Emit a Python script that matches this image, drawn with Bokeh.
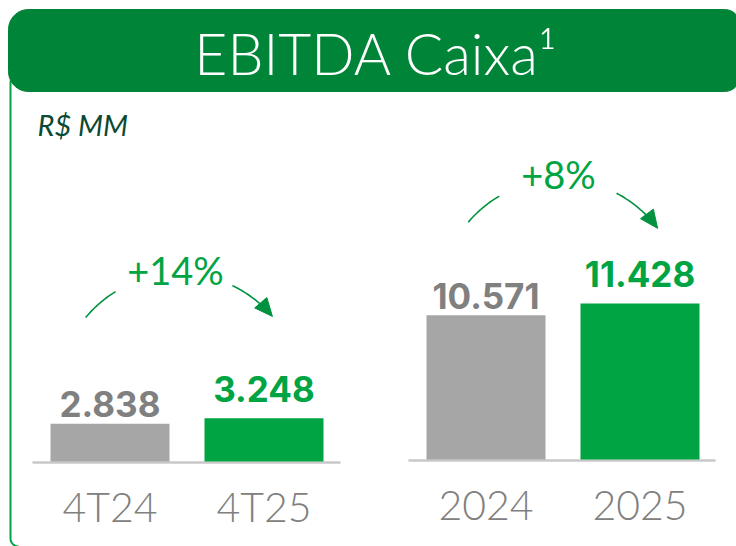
import numpy as np
from bokeh.plotting import figure
from bokeh.models import Range1d
from bokeh.core.properties import value
from bokeh.embed import file_html
from bokeh.resources import INLINE

# ---------------- data ----------------
title_text = "EBITDA Caixa¹"
unit_text = "R$ MM"

q_cats = ["4T24", "4T25"]
q_vals = [2838, 3248]
q_labels = ["2.838", "3.248"]
q_growth = "+14%"

y_cats = ["2024", "2025"]
y_vals = [10571, 11428]
y_labels = ["10.571", "11.428"]
y_growth = "+8%"

# ---------------- styles ----------------
HEADER = "#008437"
BORDER = "#00a443"
GREEN = "#00a443"
GREY_BAR = "#a6a6a6"
GREY_TXT = "#808080"
AXIS_LINE = "#c8c8c8"
ARROW = "#00923f"
UNIT_COL = "#0c4a33"
LIGHT = "Lato Light"
BOLD = "Inter"
SHIFT = 0.36  # empirical baseline correction (fraction of font size)

W, H = 736, 546

p = figure(width=W, height=H, x_range=Range1d(0, W), y_range=Range1d(H, 0),
           output_backend="svg", toolbar_location=None, min_border=0,
           x_axis_location=None, y_axis_location=None)
p.grid.visible = False
p.outline_line_color = None
p.background_fill_color = "white"

# value scales for the two panels (baseline page-y and units per pixel)
BASE_L, SC_L = 461, 75.0
BASE_R, SC_R = 459, 73.3
p.extra_y_ranges = {
    "L": Range1d(-(H - BASE_L) * SC_L, BASE_L * SC_L),
    "R": Range1d(-(H - BASE_R) * SC_R, BASE_R * SC_R),
}


def txt(x, y, text, size, color, font, style="normal", align="center", **kw):
    p.text(x=x, y=[v - SHIFT * size for v in y] if "y_range_name" not in kw else y,
           text=text, text_color=color, text_font=value(font),
           text_font_size=f"{size}px", text_font_style=style, text_align=align,
           text_baseline="alphabetic", **kw)


def rounded_rect(x1, y1, x2, y2, rl, rr, n=12):
    xs, ys = [], []
    for a in np.linspace(np.pi, 1.5 * np.pi, n):
        xs.append(x1 + rl + rl * np.cos(a)); ys.append(y1 + rl + rl * np.sin(a))
    for a in np.linspace(1.5 * np.pi, 2 * np.pi, n):
        xs.append(x2 - rr + rr * np.cos(a)); ys.append(y1 + rr + rr * np.sin(a))
    for a in np.linspace(0, 0.5 * np.pi, n):
        xs.append(x2 - rr + rr * np.cos(a)); ys.append(y2 - rr + rr * np.sin(a))
    for a in np.linspace(0.5 * np.pi, np.pi, n):
        xs.append(x1 + rl + rl * np.cos(a)); ys.append(y2 - rl + rl * np.sin(a))
    return xs, ys


# outer border (left side with rounded bottom corner, running off the bottom edge)
bx = [10, 10]
by = [80, 538]
for a in np.linspace(np.pi, 0.5 * np.pi, 10):
    bx.append(18 + 8 * np.cos(a)); by.append(538 + 8 * np.sin(a))
p.line(bx, by, line_color=BORDER, line_width=2)

# header
hx, hy = rounded_rect(8, 9, 740, 91, 20, 16)
p.patch(hx, hy, fill_color=HEADER, line_color=HEADER, line_width=1)
txt([376], [73], [title_text], 57, "white", LIGHT)

# unit
txt([37], [134], [unit_text], 29, UNIT_COL, "Lato", style="italic", align="left")

# baselines
p.line([32, 340], [462, 462], line_color=AXIS_LINE, line_width=2.5)
p.line([408, 715], [460, 460], line_color=AXIS_LINE, line_width=2.5)

BAR_W = 119
q_x = [109.5, 263.5]
y_x = [485.5, 639.5]
colors = [GREY_BAR, GREEN]
lab_cols = [GREY_TXT, GREEN]
gaps = [7, 17]
VSIZE = 35

p.vbar(x=q_x, width=BAR_W, bottom=0, top=q_vals, y_range_name="L",
       fill_color=colors, line_color=None)
p.vbar(x=y_x, width=BAR_W, bottom=0, top=y_vals, y_range_name="R",
       fill_color=colors, line_color=None)

for i in range(2):
    off = -(gaps[i] + SHIFT * VSIZE)
    txt([q_x[i]], [q_vals[i]], [q_labels[i]], VSIZE, lab_cols[i], BOLD, style="bold",
        y_range_name="L", y_offset=off)
    txt([y_x[i]], [y_vals[i]], [y_labels[i]], VSIZE, lab_cols[i], BOLD, style="bold",
        y_range_name="R", y_offset=off)

# category labels
txt(q_x, [521, 521], q_cats, 41, GREY_TXT, LIGHT)
txt(y_x, [520, 520], y_cats, 41, GREY_TXT, LIGHT)


# growth arcs
def growth_arc(cx, cy, r, a1, a2, a3, a4, label, lx, ly):
    t = np.radians(np.linspace(a1, a2, 30))
    p.line(cx + r * np.cos(t), cy - r * np.sin(t), line_color=ARROW, line_width=1.6)
    t = np.radians(np.linspace(a3, a4 + 6, 30))
    p.line(cx + r * np.cos(t), cy - r * np.sin(t), line_color=ARROW, line_width=1.6)
    te = np.radians(a4)
    tipx, tipy = cx + r * np.cos(te), cy - r * np.sin(te)
    dx, dy = np.sin(te), np.cos(te)
    L, Wd = 18, 8
    basex, basey = tipx - L * dx, tipy - L * dy
    nx, ny = -dy, dx
    p.patch([tipx, basex + Wd * nx, basex - Wd * nx], [tipy, basey + Wd * ny, basey - Wd * ny],
            fill_color=ARROW, line_color=ARROW)
    txt([lx], [ly], [label], 38, GREEN, "Lato")


growth_arc(179, 395, 122, 140.3, 121.6, 64.3, 40.4, q_growth, 175, 283)
growth_arc(560, 300, 121, 139.7, 120.4, 62.4, 36.6, y_growth, 558, 187)

open("out.html", "w").write(file_html(p, INLINE))
